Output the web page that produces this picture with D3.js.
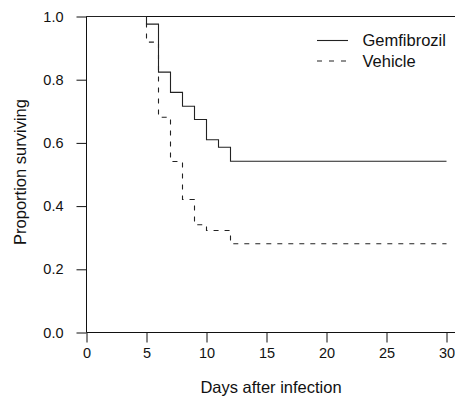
<!DOCTYPE html>
<html>
<head>
<meta charset="utf-8">
<script src="https://cdn.jsdelivr.net/npm/d3@7"></script>
<style>
  body { margin: 0; background: #fff; }
  svg text { font-family: "Liberation Sans", Arial, sans-serif; fill: #111; }
</style>
</head>
<body>
<div id="chart"></div>
<script>
// Kaplan-Meier steps
const gemDays = [0, 5, 6, 7, 8, 9, 10, 11, 12, 30];
const gemSurv = [1.0, 0.976, 0.824, 0.760, 0.716, 0.674, 0.610, 0.586, 0.542, 0.542];
const vehDays = [0, 5, 6, 7, 8, 9, 10, 12, 30];
const vehSurv = [1.0, 0.919, 0.681, 0.541, 0.421, 0.341, 0.323, 0.281, 0.281];

const xTicks = [0, 5, 10, 15, 20, 25, 30];
const yTicks = [0, 0.2, 0.4, 0.6, 0.8, 1.0];
const seriesNames = ["Gemfibrozil", "Vehicle"];

const width = 455, height = 397;
const margin = {top: 16.5, left: 86.5, bottom: 64.5};

const svg = d3.select("#chart").append("svg")
    .attr("width", width)
    .attr("height", height);

const x = d3.scaleLinear().domain([0, 30]).range([margin.left, 446.5]);
const y = d3.scaleLinear().domain([0, 1]).range([height - margin.bottom, margin.top]);

// axes
const xAxis = svg.append("g")
    .attr("transform", "translate(0," + y(0) + ")")
    .call(d3.axisBottom(x).tickValues(xTicks).tickSize(10).tickPadding(5).tickFormat(d3.format("d")));
xAxis.select(".domain").remove();
xAxis.selectAll("text").style("font-size", "14.5px");

const yAxis = svg.append("g")
    .attr("transform", "translate(" + x(0) + ",0)")
    .call(d3.axisLeft(y).tickValues(yTicks).tickSize(10).tickPadding(13).tickFormat(d3.format(".1f")));
yAxis.select(".domain").remove();
yAxis.selectAll("text").style("font-size", "14.5px");

svg.selectAll(".tick line").attr("stroke", "#111");

// frame: left, top and bottom lines
svg.append("line").attr("x1", x(0)).attr("x2", x(0)).attr("y1", y(1)).attr("y2", y(0)).attr("stroke", "#111");
svg.append("line").attr("x1", x(0)).attr("x2", width).attr("y1", y(1)).attr("y2", y(1)).attr("stroke", "#111");
svg.append("line").attr("x1", x(0)).attr("x2", width).attr("y1", y(0)).attr("y2", y(0)).attr("stroke", "#111");

// survival curves
const line = d3.line()
    .x(d => x(d[0]))
    .y(d => y(d[1]))
    .curve(d3.curveStepAfter);

svg.append("path")
    .datum(d3.zip(gemDays, gemSurv))
    .attr("d", line)
    .attr("fill", "none")
    .attr("stroke", "#222")
    .attr("stroke-width", 1.1);

svg.append("path")
    .datum(d3.zip(vehDays, vehSurv))
    .attr("d", line)
    .attr("fill", "none")
    .attr("stroke", "#222")
    .attr("stroke-width", 1.1)
    .attr("stroke-dasharray", "5,6");

// legend
const legend = svg.append("g");
seriesNames.forEach((name, i) => {
    const ly = 40.5 + i * 20.5;
    legend.append("line")
        .attr("x1", 317).attr("x2", 348)
        .attr("y1", ly).attr("y2", ly)
        .attr("stroke", "#222")
        .attr("stroke-width", 1.1)
        .attr("stroke-dasharray", i == 1 ? "5,7" : null);
    legend.append("text")
        .attr("x", 362.5)
        .attr("y", ly + 5.5)
        .style("font-size", "16.5px")
        .text(name);
});

// axis titles
svg.append("text")
    .attr("x", 271)
    .attr("y", 393)
    .attr("text-anchor", "middle")
    .style("font-size", "16.5px")
    .text("Days after infection");

svg.append("text")
    .attr("transform", "translate(26," + 172 + ") rotate(-90)")
    .attr("text-anchor", "middle")
    .style("font-size", "16.5px")
    .text("Proportion surviving");
</script>
</body>
</html>
